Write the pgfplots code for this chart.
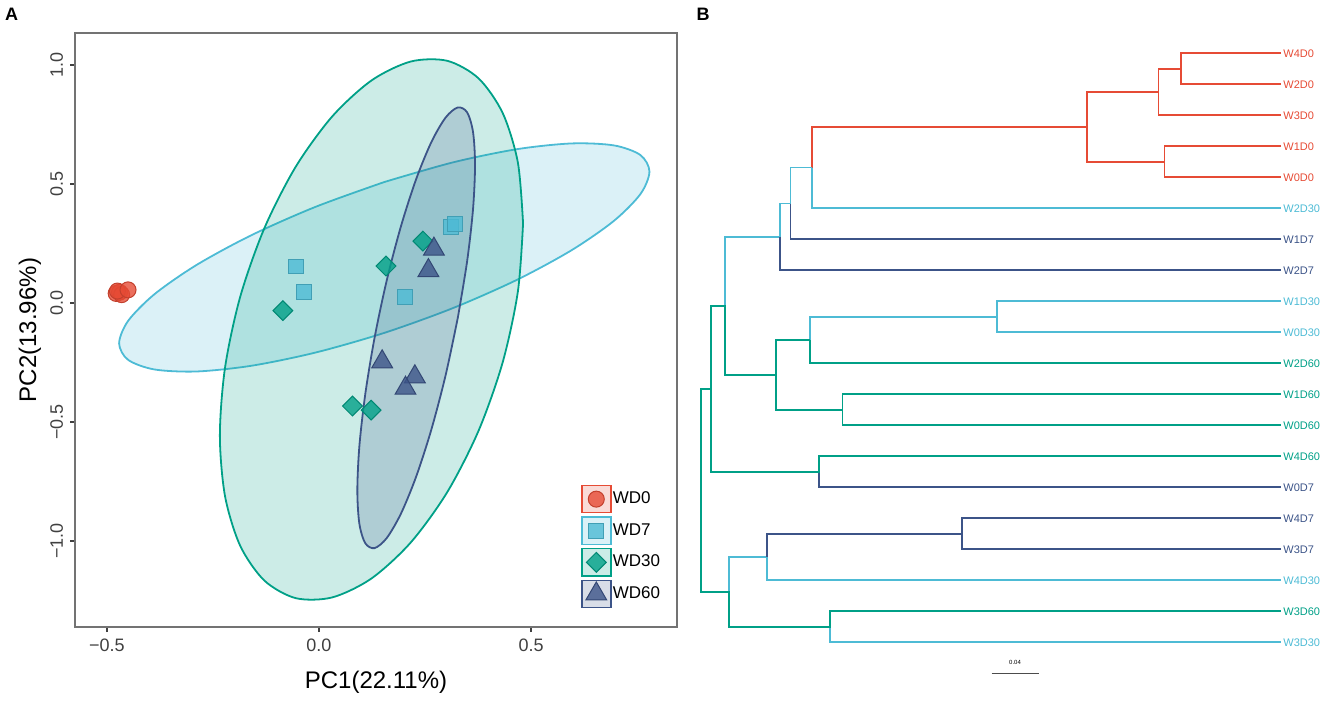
\documentclass[border=0pt]{standalone}
\usepackage{pgfplots}
\pgfplotsset{compat=1.18}
\usepackage{fontspec}
\setmainfont{Liberation Sans}

\definecolor{npgred}{HTML}{E64B35}
\definecolor{npgblue}{HTML}{4DBBD5}
\definecolor{npggreen}{HTML}{00A087}
\definecolor{npgnavy}{HTML}{3C5488}

% legend key: coloured box with the plot's marker inside
\pgfplotsset{
  boxkey/.style={legend image code/.code={
    \draw[draw=#1, fill=#1!20, line width=0.7pt] (0pt,-6.8pt) rectangle (14.5pt,6.8pt);
    \draw[only marks] plot coordinates {(7.25pt,0pt)};}},
  ell/.style={draw=#1, line width=0.9pt, fill=#1, fill opacity=0.2, draw opacity=1, smooth, forget plot},
  br/.style={draw=#1, line width=0.85pt, mark=none},
}

\begin{document}
\begin{tikzpicture}
\path[use as bounding box] (0,0) rectangle (662.5pt,353pt);

% ---------- panel B: dendrogram, drawn in pixel coordinates of the figure ----------
\begin{axis}[
  at={(0pt,0pt)}, anchor=south west,
  scale only axis, width=662.5pt, height=353pt,
  xmin=0, xmax=1325, ymin=0, ymax=706, y dir=reverse,
  axis lines=none, clip=false,
]
% red (D0)
\addplot[br=npgred] coordinates {(1281,53.3)(1181,53.3)(1181,84.3)(1281,84.3)};
\addplot[br=npgred] coordinates {(1181,68.8)(1158.4,68.8)(1158.4,115.3)(1281,115.3)};
\addplot[br=npgred] coordinates {(1158.4,92.05)(1087.2,92.05)(1087.2,161.8)(1164.5,161.8)};
\addplot[br=npgred] coordinates {(1281,146.3)(1164.5,146.3)(1164.5,177.3)(1281,177.3)};
\addplot[br=npgred] coordinates {(1087.2,126.93)(811.9,126.93)(811.9,167.6)};
% light blue (D30)
\addplot[br=npgblue] coordinates {(811.9,167.6)(811.9,208.3)(1281,208.3)};
\addplot[br=npgblue] coordinates {(725.2,305.9)(725.2,236.9)(779.9,236.9)(779.9,203.5)(790.4,203.5)(790.4,167.6)(811.9,167.6)};
\addplot[br=npgblue] coordinates {(1281,301.3)(996.9,301.3)(996.9,332.3)(1281,332.3)};
\addplot[br=npgblue] coordinates {(996.9,316.8)(810.2,316.8)(810.2,340.05)};
\addplot[br=npgblue] coordinates {(767.3,557.05)(767.3,580.3)(1281,580.3)};
\addplot[br=npgblue] coordinates {(767.3,557.05)(728.9,557.05)(728.9,591.9)};
\addplot[br=npgblue] coordinates {(829.7,626.8)(829.7,642.3)(1281,642.3)};
% navy (D7)
\addplot[br=npgnavy] coordinates {(790.4,203.5)(790.4,239.3)(1281,239.3)};
\addplot[br=npgnavy] coordinates {(779.9,236.9)(779.9,270.3)(1281,270.3)};
\addplot[br=npgnavy] coordinates {(818.7,471.8)(818.7,487.3)(1281,487.3)};
\addplot[br=npgnavy] coordinates {(1281,518.3)(961.7,518.3)(961.7,549.3)(1281,549.3)};
\addplot[br=npgnavy] coordinates {(961.7,533.8)(767.3,533.8)(767.3,557.05)};
% green (D60)
\addplot[br=npggreen] coordinates {(776.2,374.9)(725.2,374.9)(725.2,305.9)(711,305.9)(711,471.8)(818.7,471.8)(818.7,456.3)(1281,456.3)};
\addplot[br=npggreen] coordinates {(711,388.85)(701.3,388.85)(701.3,591.9)(728.9,591.9)(728.9,626.8)(829.7,626.8)(829.7,611.3)(1281,611.3)};
\addplot[br=npggreen] coordinates {(810.2,340.05)(810.2,363.3)(1281,363.3)};
\addplot[br=npggreen] coordinates {(810.2,340.05)(776.2,340.05)(776.2,409.8)(842.6,409.8)};
\addplot[br=npggreen] coordinates {(1281,394.3)(842.6,394.3)(842.6,425.3)(1281,425.3)};
% scale bar
\addplot[draw=black!70, line width=0.6pt, mark=none] coordinates {(991.6,673.3)(1039,673.3)};
\node[font=\fontsize{3}{3}\selectfont, inner sep=0pt] at (axis cs:1015,662) {0.04};

% leaf labels
\begin{scope}[every node/.style={anchor=west, inner sep=0pt, font=\fontsize{5.5}{6}\selectfont}]
\node[text=npgred]   at (axis cs:1283,53.3)  {W4D0};
\node[text=npgred]   at (axis cs:1283,84.3)  {W2D0};
\node[text=npgred]   at (axis cs:1283,115.3) {W3D0};
\node[text=npgred]   at (axis cs:1283,146.3) {W1D0};
\node[text=npgred]   at (axis cs:1283,177.3) {W0D0};
\node[text=npgblue]  at (axis cs:1283,208.3) {W2D30};
\node[text=npgnavy]  at (axis cs:1283,239.3) {W1D7};
\node[text=npgnavy]  at (axis cs:1283,270.3) {W2D7};
\node[text=npgblue]  at (axis cs:1283,301.3) {W1D30};
\node[text=npgblue]  at (axis cs:1283,332.3) {W0D30};
\node[text=npggreen] at (axis cs:1283,363.3) {W2D60};
\node[text=npggreen] at (axis cs:1283,394.3) {W1D60};
\node[text=npggreen] at (axis cs:1283,425.3) {W0D60};
\node[text=npggreen] at (axis cs:1283,456.3) {W4D60};
\node[text=npgnavy]  at (axis cs:1283,487.3) {W0D7};
\node[text=npgnavy]  at (axis cs:1283,518.3) {W4D7};
\node[text=npgnavy]  at (axis cs:1283,549.3) {W3D7};
\node[text=npgblue]  at (axis cs:1283,580.3) {W4D30};
\node[text=npggreen] at (axis cs:1283,611.3) {W3D60};
\node[text=npgblue]  at (axis cs:1283,642.3) {W3D30};
\end{scope}

% panel letters
\node[font=\bfseries\fontsize{9}{10}\selectfont, inner sep=0pt] at (axis cs:11.5,14) {A};
\node[font=\bfseries\fontsize{9}{10}\selectfont, inner sep=0pt] at (axis cs:703,14) {B};
\end{axis}

% ---------- panel A: PCA ----------
\begin{axis}[
  at={(37.5pt,39.5pt)}, anchor=south west,
  scale only axis, width=301pt, height=297pt,
  xmin=-0.575, xmax=0.844, ymin=-1.361, ymax=1.134,
  xtick={-0.5,0,0.5}, xticklabels={−0.5,0.0,0.5},
  ytick={-1,-0.5,0,0.5,1}, yticklabels={−1.0,−0.5,0.0,0.5,1.0},
  tick pos=left, tick align=outside, major tick length=2.5pt,
  every tick/.style={black!75, line width=0.8pt},
  axis line style={draw=black!55, line width=0.9pt},
  ticklabel style={font=\fontsize{9}{10}\selectfont, text=black!75},
  yticklabel style={rotate=90, anchor=south},
  xlabel={PC1(22.11\%)}, ylabel={PC2(13.96\%)},
  label style={font=\fontsize{12}{14}\selectfont},
  xlabel style={at={(axis description cs:0.5,-0.0926)}, anchor=center},
  ylabel style={at={(axis description cs:-0.0748,0.5)}, anchor=center},
  legend style={at={(axis description cs:0.84,0.24)}, anchor=north west,
    draw=none, fill=none, font=\fontsize{8.5}{10}\selectfont,
    row sep=1.5pt, inner sep=0pt, nodes={inner sep=0.7pt}},
  legend cell align=left,
]
% confidence ellipses (outline)
\addplot[ell=npgblue] coordinates {
(.1540,.5080) (-.0078,.4039) (-.1585,.2853) (-.2879,.1603) (-.3873,.0374) (-.4497,-.0750)
(-.4710,-.1693) (-.4497,-.2390) (-.3873,-.2794) (-.2879,-.2877) (-.1585,-.2635) (-.0078,-.2081)
(.1540,-.1256) (.3158,-.0215) (.4665,.0971) (.5959,.2221) (.6953,.3450) (.7577,.4574)
(.7790,.5517) (.7577,.6214) (.6953,.6618) (.5959,.6701) (.4665,.6459) (.3158,.5905) (.1540,.5080)};
\addplot[ell=npggreen] coordinates {
(.4811,.3341) (.4689,.0482) (.4332,-.2485) (.3764,-.5359) (.3025,-.7943) (.2163,-1.0061)
(.1238,-1.1571) (.0313,-1.2367) (-.0549,-1.2397) (-.1288,-1.1657) (-.1856,-1.0199) (-.2213,-.8122)
(-.2335,-.5567) (-.2213,-.2708) (-.1856,.0259) (-.1288,.3133) (-.0549,.5717) (.0313,.7835)
(.1238,.9345) (.2163,1.0141) (.3025,1.0171) (.3764,.9431) (.4332,.7973) (.4689,.5896) (.4811,.3341)};
\addplot[ell=npgnavy] coordinates {
(.3273,-.0623) (.3493,.1757) (.3632,.3948) (.3679,.5798) (.3632,.7182) (.3493,.8005)
(.3273,.8213) (.2986,.7789) (.2651,.6763) (.2292,.5206) (.1933,.3223) (.1598,.0949)
(.1311,-.1461) (.1091,-.3841) (.0952,-.6032) (.0905,-.7882) (.0952,-.9266) (.1091,-1.0089)
(.1311,-1.0297) (.1598,-.9873) (.1933,-.8847) (.2292,-.7290) (.2651,-.5307) (.2986,-.3033) (.3273,-.0623)};

% samples
\addplot[only marks, mark=*, mark size=4pt, draw=npgred!85!black,
  mark options={fill=npgred, fill opacity=0.8, line width=0.5pt}, boxkey=npgred]
  coordinates {(-0.478,0.040) (-0.470,0.045) (-0.465,0.035) (-0.475,0.050) (-0.450,0.055)};
\addlegendentry{WD0}
\addplot[only marks, mark=square*, mark size=3.7pt, draw=npgblue!85!black,
  mark options={fill=npgblue, fill opacity=0.8, line width=0.5pt}, boxkey=npgblue]
  coordinates {(-0.055,0.153) (-0.035,0.047) (0.203,0.026) (0.311,0.320) (0.321,0.332)};
\addlegendentry{WD7}
\addplot[only marks, mark=square*, mark size=3.5pt, draw=npggreen!85!black,
  mark options={rotate=45, fill=npggreen, fill opacity=0.8, line width=0.5pt}, boxkey=npggreen]
  coordinates {(-0.085,-0.032) (0.158,0.155) (0.245,0.260) (0.079,-0.433) (0.123,-0.450)};
\addlegendentry{WD30}
\addplot[only marks, mark=triangle*, mark size=6pt, draw=npgnavy!85!black,
  mark options={fill=npgnavy, fill opacity=0.8, line width=0.5pt}, boxkey=npgnavy]
  coordinates {(0.271,0.226) (0.258,0.136) (0.149,-0.247) (0.226,-0.310) (0.204,-0.358)};
\addlegendentry{WD60}
\end{axis}
\end{tikzpicture}
\end{document}
